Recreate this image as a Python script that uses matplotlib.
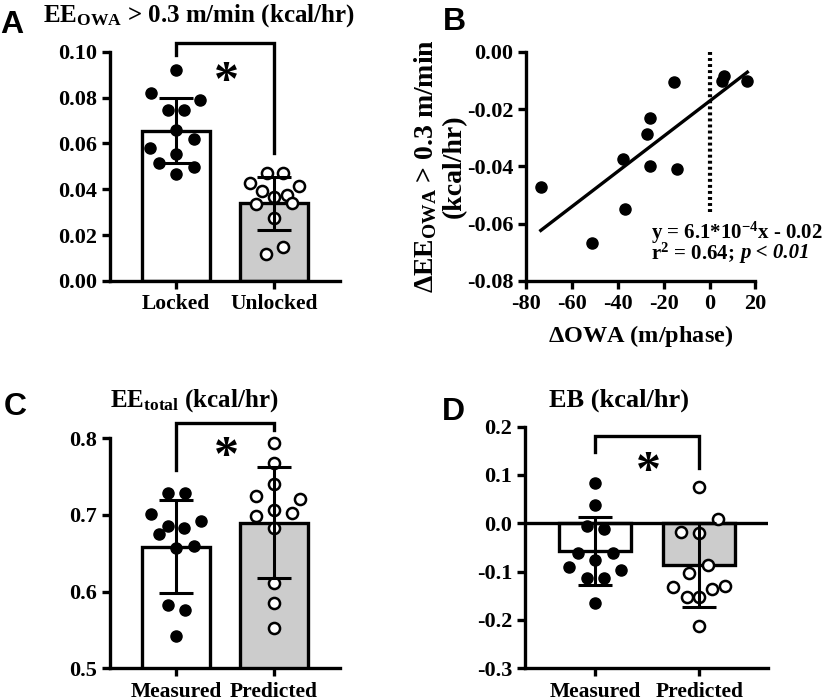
import matplotlib
matplotlib.use('Agg')
import matplotlib.pyplot as plt
import numpy as np

plt.rcParams['font.family'] = 'Liberation Serif'
plt.rcParams['font.weight'] = 'bold'
plt.rcParams['axes.labelweight'] = 'bold'
plt.rcParams['mathtext.fontset'] = 'custom'
plt.rcParams['mathtext.rm'] = 'Liberation Serif:bold'
plt.rcParams['mathtext.it'] = 'Liberation Serif:bold:italic'
plt.rcParams['mathtext.bf'] = 'Liberation Serif:bold'
plt.rcParams['axes.unicode_minus'] = False

# ---- panel A: EE_OWA > 0.3 m/min ----
a_groups = ['Locked', 'Unlocked']
a_means = [0.0656, 0.0339]
a_sds = [0.0142, 0.0115]
locked = [0.0921, 0.0820, 0.0790, 0.0747, 0.0744, 0.0659, 0.0620, 0.0579, 0.0553, 0.0514, 0.0497, 0.0467]
locked_dx = [0, -0.25, 0.25, -0.085, 0.085, 0, 0.18, -0.26, 0, -0.17, 0.18, 0]
unlocked = [0.0470, 0.0470, 0.0427, 0.0416, 0.0394, 0.0373, 0.0368, 0.0335, 0.0339, 0.0274, 0.0147, 0.0117]
unlocked_dx = [-0.075, 0.095, -0.24, 0.26, -0.12, 0.13, 0, -0.18, 0.18, 0, 0.095, -0.08]

# ---- panel B: change in EE vs change in OWA ----
d_owa = [-73.7, -51.2, -36.9, -37.9, -26.0, -27.2, -26.0, -14.1, -15.5, 6.3, 5.6, 16.5]
d_ee = [-0.0471, -0.0669, -0.0550, -0.0375, -0.0232, -0.0287, -0.0398, -0.0410, -0.0105, -0.0084, -0.0101, -0.0101]

# ---- panel C: EE total ----
c_groups = ['Measured', 'Predicted']
c_means = [0.6586, 0.6900]
c_sds = [0.0607, 0.0726]
ee_measured = [0.7283, 0.7283, 0.7013, 0.6921, 0.6856, 0.6826, 0.6748, 0.6573, 0.6599, 0.5826, 0.5760, 0.5421]
ee_measured_dx = [-0.085, 0.09, -0.255, 0.255, -0.08, 0.085, -0.17, 0, 0.18, -0.085, 0.09, 0]
ee_predicted = [0.7935, 0.7674, 0.7404, 0.7247, 0.7204, 0.7065, 0.6991, 0.7030, 0.6826, 0.6109, 0.5857, 0.5531]
ee_predicted_dx = [0, 0, 0, -0.18, 0.27, 0, -0.18, 0.18, 0, 0, 0, 0]

# ---- panel D: energy balance ----
d_groups = ['Measured', 'Predicted']
d_means = [-0.0567, -0.0862]
d_sds = [0.0705, 0.0863]
eb_measured = [0.0828, 0.0379, -0.0056, -0.0124, -0.0621, -0.0621, -0.0759, -0.0910, -0.0966, -0.1138, -0.1138, -0.1655]
eb_measured_dx = [0, 0, -0.083, 0.087, -0.17, 0.17, 0, -0.25, 0.25, -0.083, 0.087, 0]
eb_predicted = [0.0757, 0.0083, -0.0174, -0.0207, -0.0863, -0.1022, -0.1312, -0.1297, -0.1366, -0.1519, -0.1531, -0.2125]
eb_predicted_dx = [0, 0.18, -0.18, 0, 0.087, -0.096, -0.25, 0.25, 0.125, -0.12, 0, 0]

LW = 2.4


def style_axes(ax):
    for s in ['top', 'right']:
        ax.spines[s].set_visible(False)
    for s in ['left', 'bottom']:
        ax.spines[s].set_linewidth(LW)
    ax.tick_params(width=LW, length=6, labelsize=16)


def bar_panel(ax, groups, means, sds, pts, offs, ylim, yticks, fmt):
    x = np.arange(len(groups))
    ax.bar(x, means, width=0.69, color=['white', '#cccccc'], edgecolor='black',
           linewidth=LW, zorder=1)
    for i in range(len(groups)):
        px = i + np.array(offs[i])
        if i == 0:
            ax.plot(px, pts[i], 'o', ms=8, color='black', zorder=3, clip_on=False)
        else:
            ax.plot(px, pts[i], 'o', ms=8, mfc='white', mec='black', mew=1.8,
                    zorder=3, clip_on=False)
    ax.errorbar(x, means, yerr=sds, fmt='none', ecolor='black', elinewidth=2.2,
                capsize=12.5, capthick=2.2, zorder=4)
    ax.set_xlim(-0.673, 1.673)
    ax.set_ylim(*ylim)
    ax.set_yticks(yticks)
    ax.set_yticklabels([fmt.format(v) for v in yticks])
    ax.set_xticks(x)
    style_axes(ax)
    ax.set_xticklabels(groups, fontsize=15.5)


def bracket(ax, ytop, yl, yr, ystar):
    ax.plot([0, 0, 1, 1], [yl, ytop, ytop, yr], color='black', lw=LW,
            clip_on=False, solid_joinstyle='miter')
    ax.text(0.51, ystar, '*', fontsize=36, ha='center', va='center')


fig = plt.figure(figsize=(8.25, 6.99), dpi=100)

# A
axA = fig.add_axes([0.1333, 0.598, 0.2788, 0.328])
bar_panel(axA, a_groups, a_means, a_sds, [locked, unlocked], [locked_dx, unlocked_dx],
          (0, 0.10), np.arange(0, 0.101, 0.02), '{:.2f}')
bracket(axA, 0.1038, 0.0987, 0.0559, 0.0865)
fig.text(0.241, 0.9685, r'EE$_{\mathrm{OWA}}$ > 0.3 m/min (kcal/hr)', fontsize=18,
         ha='center', va='baseline')

# B
axB = fig.add_axes([0.638, 0.598, 0.2776, 0.328])
axB.plot(d_owa, d_ee, 'o', ms=8, color='black', clip_on=False)
slope, icpt = np.polyfit(d_owa, d_ee, 1)
xl = np.array([min(d_owa), max(d_owa)])
axB.plot(xl, slope * xl + icpt, color='black', lw=2.4)
axB.plot([0, 0], [0, -0.0558], color='black', lw=3, ls=(0, (0.7, 0.75)))
axB.set_xlim(-80, 20)
axB.set_ylim(-0.08, 0)
axB.set_xticks(np.arange(-80, 21, 20))
axB.set_yticks(np.arange(-0.08, 0.001, 0.02))
axB.set_yticklabels(['{:.2f}'.format(v) for v in np.arange(-0.08, 0.001, 0.02)])
style_axes(axB)
axB.set_xlabel(r'$\Delta$OWA (m/phase)', fontsize=17.5, labelpad=6)
axB.set_ylabel('\u0394EE$_{\\mathrm{OWA}}$ > 0.3 m/min\n(kcal/hr)', fontsize=20,
               labelpad=0, linespacing=1.15)
axB.text(-25.5, -0.0633, r'y = 6.1*10$^{-4}$x - 0.02', fontsize=15, ha='left',
         va='center', clip_on=False)
r2 = axB.text(-25.5, -0.0703, r'r$^{2}$ = 0.64;', fontsize=15, ha='left',
              va='center', clip_on=False)
axB.annotate('p < 0.01', xy=(1, 0.5), xycoords=r2, xytext=(4, 0),
             textcoords='offset points', fontsize=15, style='italic',
             ha='left', va='center', annotation_clip=False)

# C
axC = fig.add_axes([0.1333, 0.0439, 0.2788, 0.329])
bar_panel(axC, c_groups, c_means, c_sds, [ee_measured, ee_predicted],
          [ee_measured_dx, ee_predicted_dx], (0.5, 0.8), [0.5, 0.6, 0.7, 0.8], '{:.1f}')
bracket(axC, 0.8203, 0.7587, 0.8109, 0.775)
fig.text(0.235, 0.4185, r'EE$_{\mathrm{total}}$ (kcal/hr)', fontsize=18,
         ha='center', va='baseline')

# D
axD = fig.add_axes([0.6367, 0.0439, 0.2942, 0.3457])
bar_panel(axD, d_groups, d_means, d_sds, [eb_measured, eb_predicted],
          [eb_measured_dx, eb_predicted_dx], (-0.3, 0.2), [-0.3, -0.2, -0.1, 0.0, 0.1, 0.2],
          '{:.1f}')
axD.set_xlim(-0.673, 1.66)
axD.axhline(0, color='black', lw=LW, zorder=2)
bracket(axD, 0.1806, 0.148, 0.114, 0.104)
fig.text(0.75, 0.4185, 'EB (kcal/hr)', fontsize=19, ha='center', va='baseline')

# panel letters
for lbl, xx, yy in [('A', 0.0, 0.953), ('B', 0.537, 0.957), ('C', 0.004, 0.406), ('D', 0.535, 0.399)]:
    fig.text(xx, yy, lbl, fontsize=23, family='Liberation Sans', weight='bold',
             ha='left', va='baseline')

fig.savefig('out.png', dpi=100)
